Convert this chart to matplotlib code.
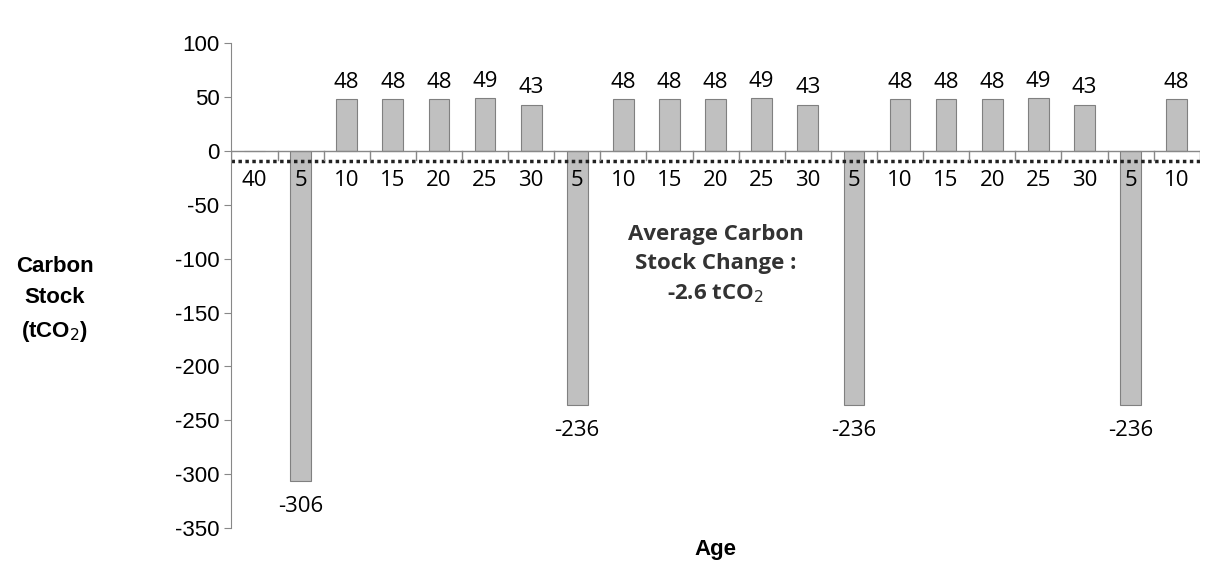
import matplotlib.pyplot as plt
import numpy as np

plt.rcParams["axes.unicode_minus"] = False
plt.rcParams["font.family"] = ["Liberation Sans", "DejaVu Sans"]

ages = ["40", "5", "10", "15", "20", "25", "30", "5", "10", "15", "20", "25", "30",
        "5", "10", "15", "20", "25", "30", "5", "10"]
stock = [0, -306, 48, 48, 48, 49, 43, -236, 48, 48, 48, 49, 43,
         -236, 48, 48, 48, 49, 43, -236, 48]
avg_line = -9  # drawn position of the average line

fig, ax = plt.subplots(figsize=(12.18, 5.77), dpi=100)
fig.subplots_adjust(left=0.19, right=0.985, top=0.925, bottom=0.085)

x = np.arange(len(ages))
ax.bar(x, stock, width=0.45, color="#c0c0c0", edgecolor="#808080", linewidth=0.8)

for xi, v in zip(x, stock):
    if v > 0:
        ax.text(xi, v + 6, str(v), ha="center", va="bottom", fontsize=16,
                family="Open Sans")
    elif v < 0:
        ax.text(xi, v - 14, str(v), ha="center", va="top", fontsize=16,
                family="Open Sans")
    ax.text(xi, -27, ages[xi], ha="center", va="center", fontsize=16,
            family="Open Sans")

ax.axhline(0, color="#888888", lw=1)
ax.axhline(avg_line, color="#222222", lw=2.5, ls=(0, (1, 1)))
for b in np.arange(-0.5, len(ages), 1):
    ax.plot([b, b], [0, -8], color="#888888", lw=1)

ax.set_xlim(-0.5, len(ages) - 0.5)
ax.set_ylim(-350, 100)
ax.set_yticks(range(-350, 101, 50))
ax.tick_params(axis="y", labelsize=16, direction="out", length=5, color="#888888")
ax.set_xticks([])
for s in ["top", "right", "bottom"]:
    ax.spines[s].set_visible(False)
ax.spines["left"].set_color("#888888")

ax.text(10, -105, "Average Carbon\nStock Change :\n-2.6 tCO$_2$", ha="center",
        va="center", fontsize=16, fontweight="bold", family="Open Sans",
        color="#333333", linespacing=1.5)
ax.set_xlabel("Age", fontsize=16, fontweight="bold", labelpad=8)
fig.text(0.045, 0.48, "Carbon\nStock\n(tCO$_2$)", ha="center", va="center",
         fontsize=16, fontweight="bold", linespacing=1.6)

fig.savefig("out.png")
